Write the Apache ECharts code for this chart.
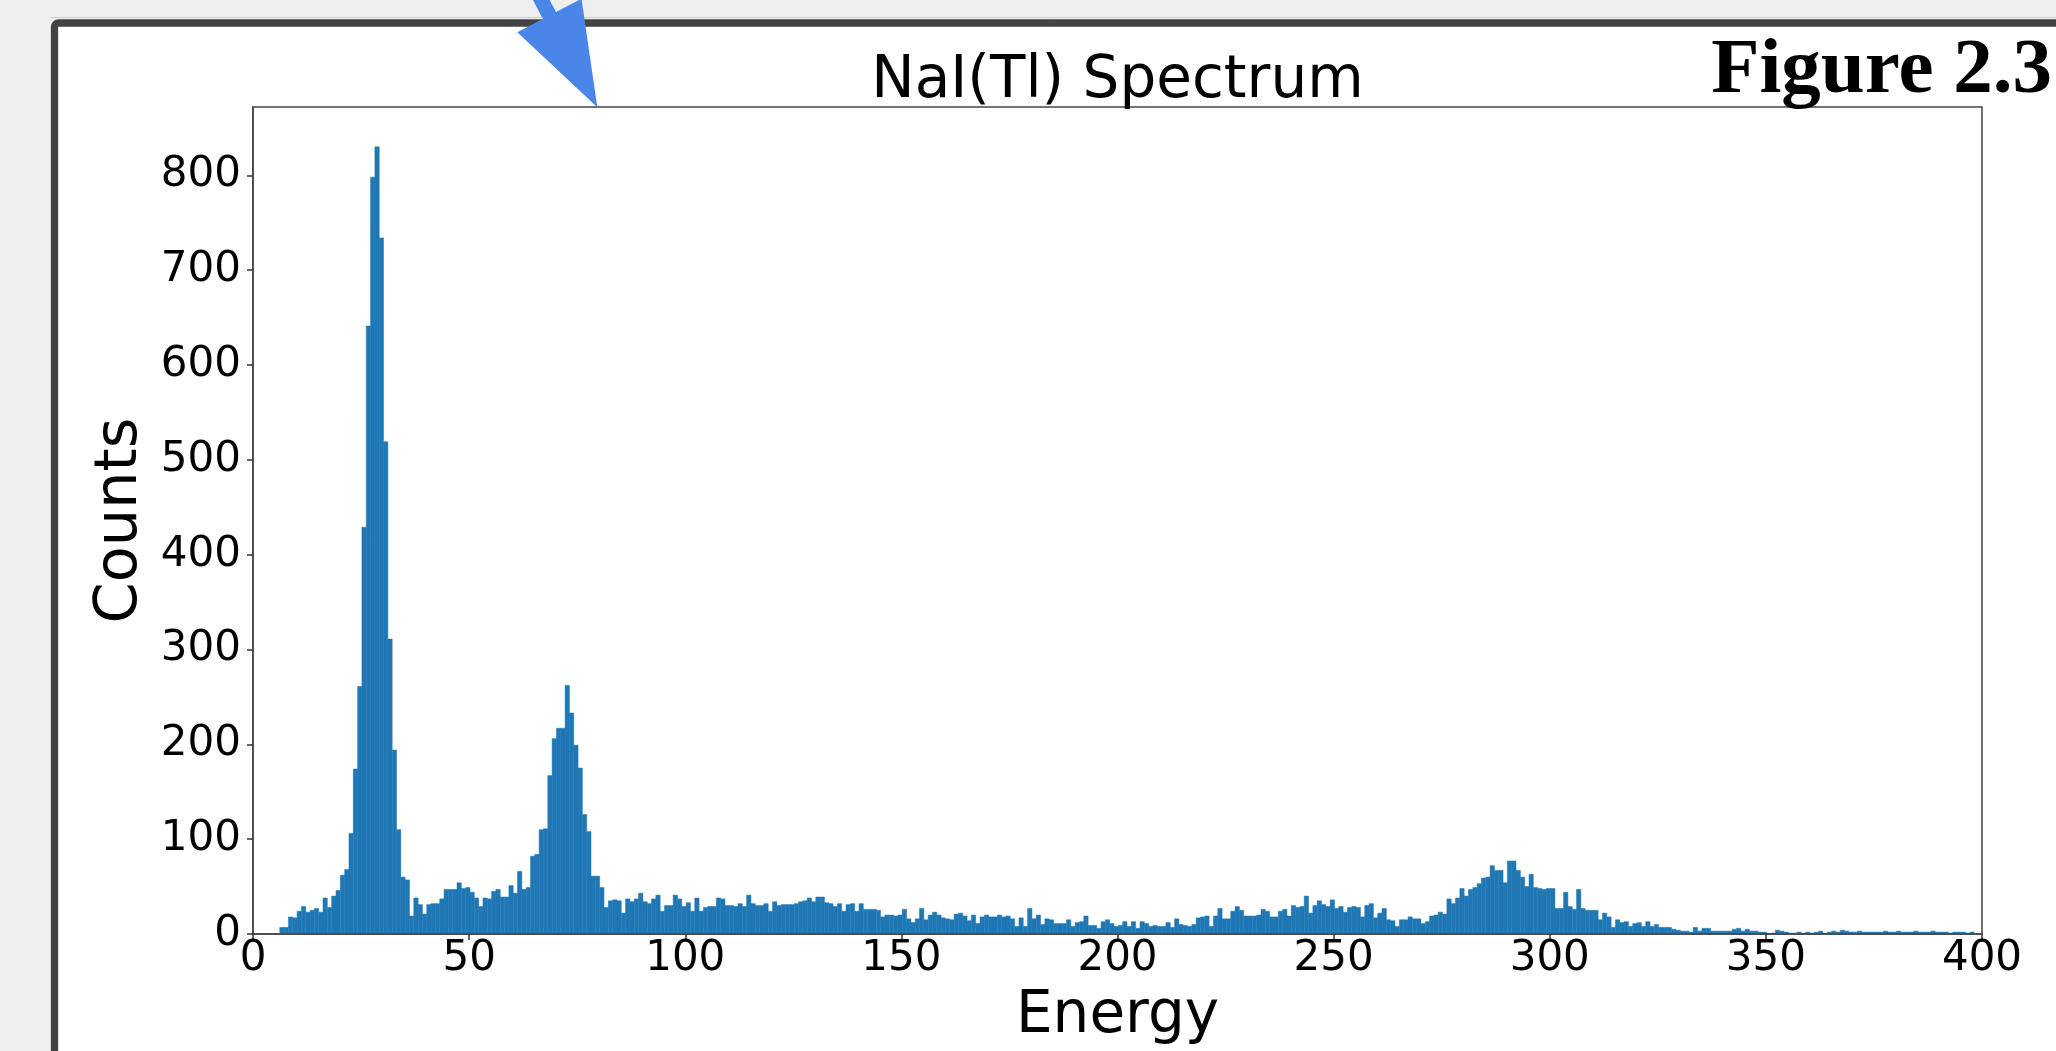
<!DOCTYPE html>
<html>
<head>
<meta charset="utf-8">
<title>NaI(Tl) Spectrum</title>
<script src="https://cdn.jsdelivr.net/npm/echarts@6/dist/echarts.min.js"></script>
<style>
  html, body { margin: 0; padding: 0; background: #efefef; }
  #main { width: 2056px; height: 1051px; }
</style>
</head>
<body>
<div id="main"></div>
<script>
// histogram bins: left edge of first bin, bin width (energy units)
var binStart = 6.2;
var binWidth = 1;
// counts per bin
var counts = [
  7, 7, 18, 17, 24, 29, 23, 25, 27, 23,
  38, 28, 40, 46, 62, 68, 106, 174, 261, 429,
  641, 798, 830, 734, 519, 311, 194, 110, 60, 57,
  19, 38, 31, 21, 31, 32, 32, 37, 47, 47,
  47, 54, 48, 49, 44, 38, 29, 38, 37, 45,
  47, 39, 39, 51, 43, 66, 47, 49, 82, 84,
  110, 111, 167, 206, 217, 217, 262, 233, 199, 175,
  126, 108, 61, 61, 49, 28, 35, 36, 35, 22,
  37, 34, 37, 43, 34, 32, 37, 41, 24, 30,
  30, 41, 37, 29, 33, 24, 38, 24, 28, 29,
  29, 38, 37, 30, 30, 29, 32, 29, 41, 32,
  30, 30, 32, 24, 34, 30, 31, 31, 31, 32,
  34, 35, 38, 34, 39, 39, 33, 32, 29, 32,
  24, 31, 32, 24, 32, 26, 26, 26, 25, 18,
  20, 20, 19, 20, 26, 16, 12, 16, 27, 15,
  20, 23, 20, 17, 16, 15, 21, 22, 19, 14,
  20, 11, 18, 20, 18, 18, 20, 18, 19, 16,
  8, 17, 8, 27, 16, 20, 10, 16, 15, 11,
  11, 11, 15, 8, 12, 13, 19, 9, 9, 6,
  13, 15, 11, 8, 9, 13, 8, 13, 6, 13,
  11, 8, 9, 8, 8, 12, 7, 16, 10, 9,
  8, 10, 17, 18, 19, 8, 19, 27, 16, 16,
  24, 29, 25, 19, 19, 19, 20, 26, 24, 18,
  18, 24, 26, 19, 30, 28, 29, 40, 22, 30,
  35, 31, 29, 36, 27, 29, 23, 28, 29, 28,
  18, 30, 32, 17, 22, 27, 15, 14, 8, 15,
  15, 18, 16, 16, 11, 13, 19, 20, 23, 21,
  37, 32, 38, 48, 40, 47, 49, 53, 59, 60,
  72, 67, 67, 54, 77, 77, 67, 60, 50, 63,
  49, 48, 47, 48, 48, 27, 27, 44, 29, 26,
  47, 27, 25, 25, 25, 15, 22, 18, 7, 15,
  12, 13, 8, 11, 12, 8, 13, 8, 10, 7,
  7, 7, 5, 4, 3, 3, 2, 7, 3, 6,
  6, 3, 3, 3, 3, 3, 5, 6, 3, 5,
  3, 3, 2, 2, 0, 1, 4, 3, 2, 1,
  1, 2, 0, 2, 1, 2, 3, 0, 2, 3,
  2, 4, 3, 2, 2, 3, 2, 2, 2, 2,
  2, 3, 2, 2, 3, 2, 2, 2, 3, 2,
  2, 2, 3, 2, 2, 2, 1, 2, 2, 2,
  1, 2
];
var xTicks = [0, 50, 100, 150, 200, 250, 300, 350, 400];
var yTicks = [0, 100, 200, 300, 400, 500, 600, 700, 800];

var bins = counts.map(function (c, i) {
  var x0 = binStart + i * binWidth;
  return [x0, x0 + binWidth, c];
});

function renderBin(params, api) {
  var top = api.coord([api.value(0), api.value(2)]);
  var bottom = api.coord([api.value(1), 0]);
  return {
    type: 'rect',
    shape: {
      x: top[0],
      y: top[1],
      width: bottom[0] - top[0],
      height: bottom[1] - top[1]
    },
    style: { fill: '#1f77b4', stroke: '#1f77b4', lineWidth: 0.5 }
  };
}

var font = '"DejaVu Sans", sans-serif';
var chart = echarts.init(document.getElementById('main'));

var option = {
  animation: false,
  backgroundColor: '#efefef',
  grid: {
    left: 253,
    right: 74,
    top: 107,
    bottom: 112,
    show: true,
    borderColor: '#444',
    borderWidth: 1.5
  },
  xAxis: {
    type: 'value',
    min: xTicks[0],
    max: xTicks[xTicks.length - 1],
    interval: 50,
    z: 5,
    name: 'Energy',
    nameLocation: 'middle',
    nameGap: 54,
    nameTextStyle: { fontSize: 58, color: '#000', fontFamily: font },
    splitLine: { show: false },
    axisLine: { lineStyle: { color: '#444', width: 1.5 } },
    axisTick: { length: 6, lineStyle: { color: '#333', width: 1.5 } },
    axisLabel: { fontSize: 42, color: '#000', margin: 4, fontFamily: font }
  },
  yAxis: {
    type: 'value',
    min: 0,
    max: 872,
    z: 5,
    name: 'Counts',
    nameLocation: 'middle',
    nameRotate: 90,
    nameGap: 97,
    nameTextStyle: { fontSize: 59, color: '#000', fontFamily: font },
    splitLine: { show: false },
    axisLine: { show: true, lineStyle: { color: '#444', width: 1.5 } },
    axisTick: { show: true, length: 6, customValues: yTicks, lineStyle: { color: '#333', width: 1.5 } },
    axisLabel: { fontSize: 42, color: '#000', margin: 12, fontFamily: font, customValues: yTicks }
  },
  series: [{
    type: 'custom',
    silent: true,
    renderItem: renderBin,
    encode: { x: [0, 1], y: 2 },
    data: bins
  }],
  graphic: [
    {
      type: 'line', z: -11, silent: true,
      shape: { x1: 51, y1: 17.5, x2: 2056, y2: 17.5 },
      style: { stroke: '#cccccc', lineWidth: 1 }
    },
    {
      type: 'rect', z: -10, silent: true,
      shape: { x: 54.5, y: 23, width: 2100, height: 1100, r: 4 },
      style: { fill: '#ffffff', stroke: '#434343', lineWidth: 7.3 }
    },
    {
      type: 'text', x: 1117.5, y: 82, silent: true,
      style: {
        text: 'NaI(Tl) Spectrum', font: '58px ' + font, fill: '#000',
        align: 'center', verticalAlign: 'middle',
        textAlign: 'center', textVerticalAlign: 'middle'
      }
    },
    {
      type: 'text', x: 2052, y: 72, silent: true,
      style: {
        text: 'Figure 2.3', font: 'bold 79px "Liberation Serif", serif', fill: '#000',
        align: 'right', verticalAlign: 'middle',
        textAlign: 'right', textVerticalAlign: 'middle'
      }
    },
    // blue annotation arrow at the top
    {
      type: 'polygon', z: 100, silent: true,
      shape: { points: [[544.2, 21.6], [557.4, 14.8], [532.3, -33.4], [519.1, -26.6]] },
      style: { fill: '#4a86e8' }
    },
    {
      type: 'polygon', z: 100, silent: true,
      shape: { points: [[517.3, 32.3], [581.5, -1.3], [597.3, 107.3]] },
      style: { fill: '#4a86e8' }
    }
  ]
};

chart.setOption(option);
</script>
</body>
</html>
